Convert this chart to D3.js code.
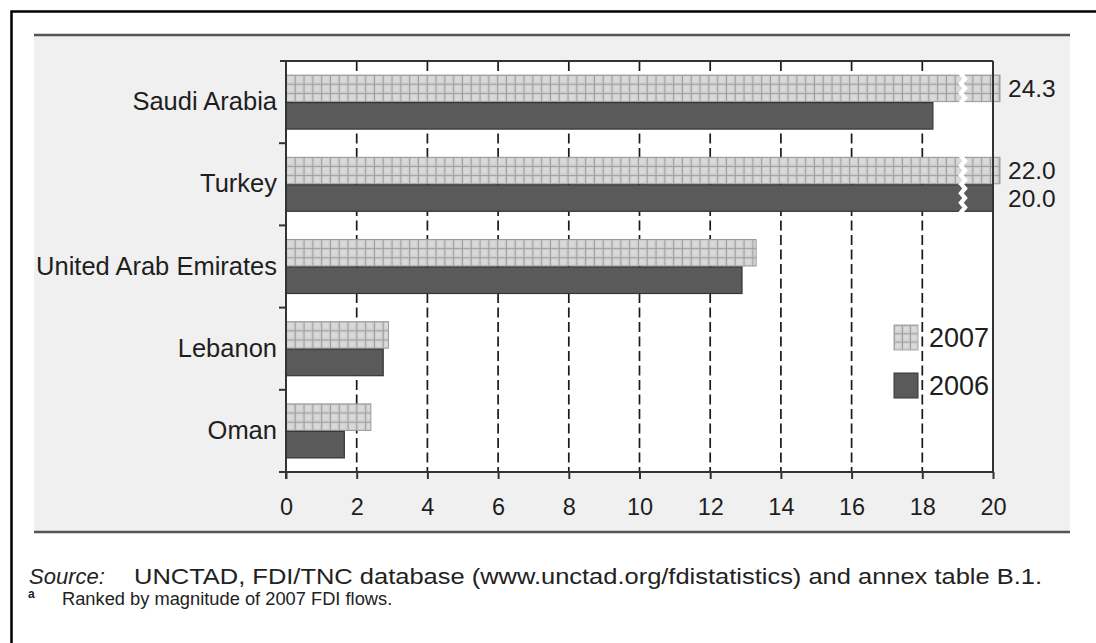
<!DOCTYPE html>
<html><head><meta charset="utf-8">
<script src="https://cdn.jsdelivr.net/npm/d3@7"></script>
<style>
body{margin:0;background:#fff}
svg{display:block;font-family:"Liberation Sans",Arial,Helvetica,sans-serif}
</style>
</head><body>
<svg id="c" width="1096" height="643"></svg>
<script>
// ---- data ----
const categories = ["Saudi Arabia", "Turkey", "United Arab Emirates", "Lebanon", "Oman"];
const seriesNames = ["2007", "2006"];
const values2007 = [24.3, 22.0, 13.3, 2.9, 2.4];
const values2006 = [18.3, 20.0, 12.9, 2.75, 1.65];
const valueLabels2007 = ["24.3", "22.0", null, null, null];
const valueLabels2006 = [null, "20.0", null, null, null];
const xTicks = [0, 2, 4, 6, 8, 10, 12, 14, 16, 18, 20];
const xMax = 20;
const sourceLabel = "Source:";
const sourceText = "UNCTAD, FDI/TNC database (www.unctad.org/fdistatistics) and annex table B.1.";
const noteMark = "a";
const noteText = "Ranked by magnitude of 2007 FDI flows.";

// ---- layout ----
const svg = d3.select("#c");
const W = 1096, H = 643;
const plot = {left: 286, right: 993, top: 61, bottom: 472};
const x = d3.scaleLinear().domain([0, xMax]).range([plot.left, plot.right]);
const y = d3.scaleBand().domain(categories).range([plot.top, plot.bottom]).paddingInner(0.331).paddingOuter(0.1655);
const ySub = d3.scaleBand().domain(seriesNames).range([0, y.bandwidth()]).padding(0);

const rows = [];
categories.forEach((c, i) => {
  rows.push({cat: c, s: "2007", v: values2007[i], label: valueLabels2007[i], i});
  rows.push({cat: c, s: "2006", v: values2006[i], label: valueLabels2006[i], i});
});

// outer frame
svg.append("rect").attr("x", 11.5).attr("y", 11.5).attr("width", W + 20).attr("height", H + 20)
  .attr("fill", "none").attr("stroke", "#000").attr("stroke-width", 2.5);

// grey panel
const panel = {x: 34, y: 35, w: 1036, h: 497};
svg.append("rect").attr("x", panel.x).attr("y", panel.y).attr("width", panel.w).attr("height", panel.h).attr("fill", "#f0f0f0");
svg.append("line").attr("x1", panel.x).attr("x2", panel.x + panel.w).attr("y1", panel.y).attr("y2", panel.y).attr("stroke", "#555").attr("stroke-width", 2.5);
svg.append("line").attr("x1", panel.x).attr("x2", panel.x + panel.w).attr("y1", panel.y + panel.h).attr("y2", panel.y + panel.h).attr("stroke", "#555").attr("stroke-width", 2.5);

// plot background
svg.append("rect").attr("x", plot.left).attr("y", plot.top).attr("width", plot.right - plot.left).attr("height", plot.bottom - plot.top).attr("fill", "#fff");

// gridlines
svg.append("g").selectAll("line").data(xTicks.filter(t => t > 0 && t < xMax)).join("line")
  .attr("x1", d => x(d)).attr("x2", d => x(d)).attr("y1", plot.top).attr("y2", plot.bottom)
  .attr("stroke", "#1a1a1a").attr("stroke-width", 1.7).attr("stroke-dasharray", "10,4.5");

// patterns for 2007 bars
const defs = svg.append("defs");
const cellW = 8.8;
function makePattern(id, px, py, h, rowsN, cw) {
  const w = cw || cellW;
  const ch = h / rowsN;
  const p = defs.append("pattern").attr("id", id).attr("patternUnits", "userSpaceOnUse")
    .attr("x", px).attr("y", py).attr("width", w).attr("height", ch);
  p.append("rect").attr("width", w).attr("height", ch).attr("fill", "#cdcdcd");
  p.append("rect").attr("x", 1.5).attr("y", 1.5).attr("width", w - 3).attr("height", ch - 3).attr("fill", "#d9d9d9");
  p.append("line").attr("x1", 0.5).attr("x2", 0.5).attr("y1", 0).attr("y2", ch).attr("stroke", "#9e9e9e").attr("stroke-width", 1);
  p.append("line").attr("x1", 0).attr("x2", w).attr("y1", 0.5).attr("y2", 0.5).attr("stroke", "#9e9e9e").attr("stroke-width", 1);
}

const barEnd = v => v > xMax ? x(xMax) + 7 : x(v);
const bars = svg.append("g");
rows.forEach((r, k) => {
  const by = y(r.cat) + ySub(r.s);
  const bh = ySub.bandwidth();
  const bx = x(0);
  const bw = barEnd(r.v) - bx;
  if (r.s === "2007") {
    const id = "pat" + k;
    makePattern(id, bx, by, bh, 3);
    bars.append("rect").attr("x", bx).attr("y", by + 0.5).attr("width", bw).attr("height", bh - 1)
      .attr("fill", `url(#${id})`).attr("stroke", "#9a9a9a").attr("stroke-width", 1);
  } else {
    bars.append("rect").attr("x", bx).attr("y", by + 0.5).attr("width", bw).attr("height", bh - 1)
      .attr("fill", "#5a5a5a").attr("stroke", "#363636").attr("stroke-width", 1.2);
  }
  r.by = by; r.bh = bh;
});

// axis break marks for bars reaching the axis maximum
const breakX = x(xMax) - 30;
function zigPath(xc, y0, h) {
  const n = Math.round(h / 4.5);
  const step = h / n;
  const left = [], right = [];
  for (let i = 0; i <= n; i++) {
    const yy = y0 + i * step;
    const off = (i % 2 === 0) ? -2 : 2;
    left.push([xc - 2.8 + off, yy]);
    right.push([xc + 2.8 + off, yy]);
  }
  return d3.line()(left.concat(right.reverse())) + "Z";
}
rows.filter(r => r.v >= xMax).forEach(r => {
  bars.append("path").attr("d", zigPath(breakX, r.by - 0.5, r.bh + 1)).attr("fill", "#fff");
});

// plot frame (top & right)
svg.append("line").attr("x1", plot.left - 6).attr("x2", plot.right).attr("y1", plot.top).attr("y2", plot.top).attr("stroke", "#333").attr("stroke-width", 2);
svg.append("line").attr("x1", plot.right).attr("x2", plot.right).attr("y1", plot.top).attr("y2", plot.bottom).attr("stroke", "#333").attr("stroke-width", 2);

const fontStack = '"Liberation Sans",Arial,sans-serif';
// bottom axis
const xAxis = d3.axisBottom(x).tickValues(xTicks).tickFormat(d3.format("d")).tickSize(7).tickSizeOuter(0).tickPadding(19);
const gx = svg.append("g").attr("transform", `translate(0,${plot.bottom})`).call(xAxis);
gx.select(".domain").remove();
gx.selectAll(".tick line").attr("stroke", "#333").attr("stroke-width", 2);
gx.selectAll(".tick text").attr("fill", "#1e1e1e").style("font-size", "23.5px").style("font-family", fontStack);
svg.append("line").attr("x1", plot.left - 7).attr("x2", plot.right).attr("y1", plot.bottom).attr("y2", plot.bottom).attr("stroke", "#333").attr("stroke-width", 2);

// left axis
const yAxis = d3.axisLeft(y).tickSize(0).tickPadding(9);
const gy = svg.append("g").attr("transform", `translate(${plot.left},0)`).call(yAxis);
gy.select(".domain").remove();
gy.selectAll(".tick text").attr("fill", "#1e1e1e").style("font-size", "25.5px").style("font-family", fontStack);
svg.append("line").attr("x1", plot.left).attr("x2", plot.left).attr("y1", plot.top).attr("y2", plot.bottom + 7).attr("stroke", "#333").attr("stroke-width", 2);
const bounds = categories.slice(1).map(c => y(c) - y.step() * y.paddingInner() / 2);
svg.append("g").selectAll("line").data(bounds).join("line")
  .attr("x1", plot.left - 7).attr("x2", plot.left).attr("y1", d => d).attr("y2", d => d)
  .attr("stroke", "#333").attr("stroke-width", 2);

// value labels
svg.append("g").selectAll("text").data(rows.filter(r => r.label)).join("text")
  .attr("x", x(xMax) + 15).attr("y", r => r.by + r.bh / 2).attr("dy", "0.36em")
  .attr("fill", "#1e1e1e").style("font-size", "24.5px").text(r => r.label);

// legend
const leg = svg.append("g");
const legY = [325, 373];
seriesNames.forEach((s, i) => {
  const lx = 894, ly = legY[i], lw = 24, lh = 25;
  if (s === "2007") {
    makePattern("legpat", lx, ly, lh, 3, lw / 3);
    leg.append("rect").attr("x", lx).attr("y", ly).attr("width", lw).attr("height", lh).attr("fill", "url(#legpat)").attr("stroke", "#aaa");
  } else {
    leg.append("rect").attr("x", lx).attr("y", ly).attr("width", lw).attr("height", lh).attr("fill", "#5a5a5a").attr("stroke", "#363636");
  }
  leg.append("text").attr("x", 929).attr("y", ly + lh / 2).attr("dy", "0.36em").attr("fill", "#1e1e1e")
    .style("font-size", "27px").text(s);
});

// footnotes
svg.append("text").attr("x", 29).attr("y", 584).attr("fill", "#222").style("font-size", "22px").style("font-style", "italic").text(sourceLabel);
svg.append("text").attr("x", 134).attr("y", 584).attr("fill", "#222").style("font-size", "21.5px")
  .attr("textLength", 908).attr("lengthAdjust", "spacingAndGlyphs").text(sourceText);
svg.append("text").attr("x", 28).attr("y", 598).attr("fill", "#222").style("font-size", "12px").style("font-weight", "bold").text(noteMark);
svg.append("text").attr("x", 62).attr("y", 605).attr("fill", "#222").style("font-size", "18.3px").text(noteText);
</script>
</body></html>
